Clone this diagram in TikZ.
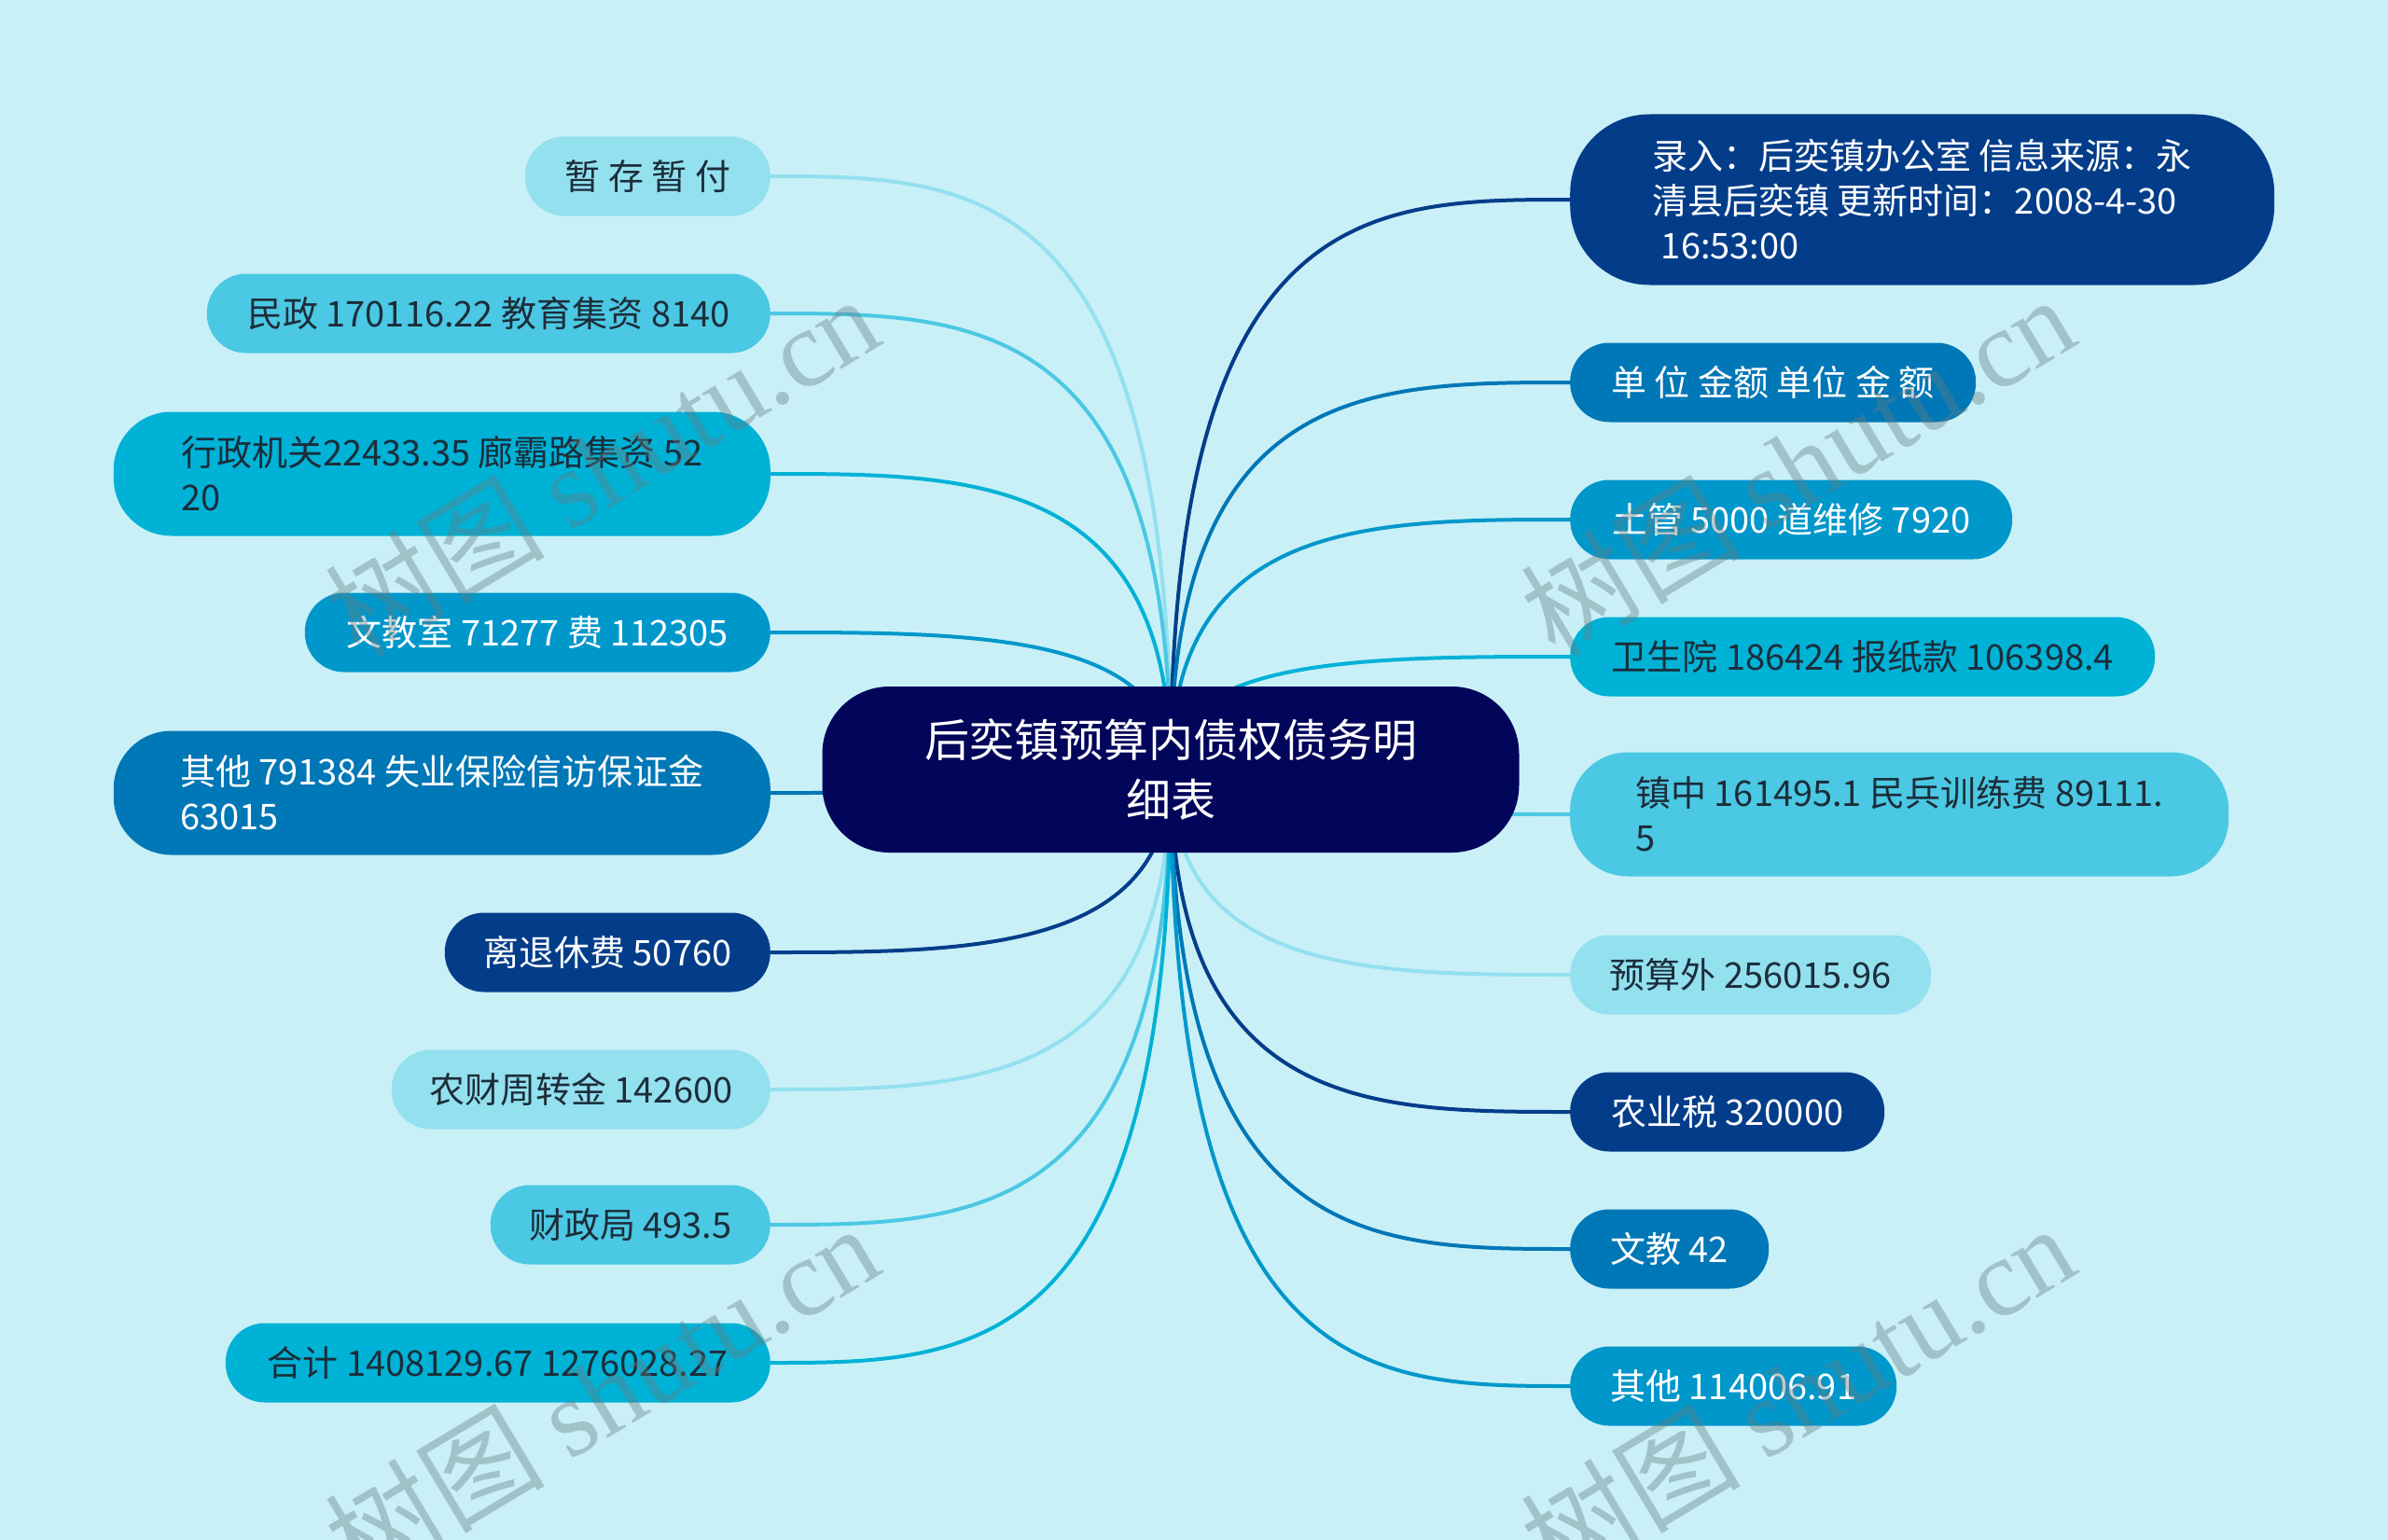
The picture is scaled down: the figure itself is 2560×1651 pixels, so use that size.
\documentclass[tikz,border=0pt]{standalone}
\usepackage{fontspec}
\setmainfont{Noto Sans CJK SC}
\setsansfont{Noto Sans CJK SC}
\newfontfamily\wmserif{Liberation Serif}
\definecolor{bg}{RGB}{201,240,247}
\definecolor{cnavy}{RGB}{2,6,90}
\definecolor{cA}{RGB}{147,224,239}
\definecolor{cB}{RGB}{75,200,227}
\definecolor{cC}{RGB}{0,178,214}
\definecolor{cD}{RGB}{0,151,203}
\definecolor{cE}{RGB}{0,119,182}
\definecolor{cF}{RGB}{3,61,138}
\definecolor{tdark}{RGB}{28,45,58}
\definecolor{wmc}{RGB}{100,125,130}
\tikzset{
  box/.style={rectangle, rounded corners=42pt, minimum height=85pt, inner sep=0pt,
    align=center, font=\fontsize{38}{48}\selectfont},
  multi/.style={box, align=left, rounded corners=62pt, minimum height=133pt},
  lbox/.style={box, anchor=east},
  rbox/.style={box, anchor=west},
  lmulti/.style={multi, anchor=east},
  rmulti/.style={multi, anchor=west},
  dk/.style={text=tdark},
  wt/.style={text=white},
  conn/.style={line width=4pt, line cap=round},
  wm/.style={text=wmc, opacity=0.4, rotate=31, font=\fontsize{118}{130}\selectfont}
}
\begin{document}
\begin{tikzpicture}[x=1pt,y=-1pt]
\useasboundingbox (0,0) rectangle (2560,1651);
\fill[bg] (0,0) rectangle (2560,1651);

\coordinate (c) at (1255,825);

% left nodes
\node[lbox, dk, fill=cA, minimum width=263pt] (L1) at (826,189) {暂 存 暂 付};
\node[lbox, dk, fill=cB, minimum width=604pt] (L2) at (826,336) {民政 170116.22 教育集资 8140};
\node[lmulti, dk, fill=cC, minimum width=704pt] (L3) at (826,508) {行政机关22433.35 廊霸路集资 52\\20};
\node[lbox, wt, fill=cD, minimum width=499pt] (L4) at (826,678) {文教室 71277 费 112305};
\node[lmulti, wt, fill=cE, minimum width=704pt] (L5) at (826,850) {其他 791384 失业保险信访保证金\\63015};
\node[lbox, wt, fill=cF, minimum width=349pt] (L6) at (826,1021) {离退休费 50760};
\node[lbox, dk, fill=cA, minimum width=406pt] (L7) at (826,1168) {农财周转金 142600};
\node[lbox, dk, fill=cB, minimum width=300pt] (L8) at (826,1313) {财政局 493.5};
\node[lbox, dk, fill=cC, minimum width=584pt] (L9) at (826,1461) {合计 1408129.67 1276028.27};

% right nodes
\node[rmulti, wt, fill=cF, minimum width=755pt, minimum height=183pt, rounded corners=85pt] (R1) at (1683,214) {录入：后奕镇办公室 信息来源：永\\清县后奕镇 更新时间：2008-4-30\\\hspace{0.25em}16:53:00};
\node[rbox, wt, fill=cE, minimum width=435pt] (R2) at (1683,410) {单 位 金额 单位 金 额};
\node[rbox, wt, fill=cD, minimum width=474pt] (R3) at (1683,557) {土管 5000 道维修 7920};
\node[rbox, dk, fill=cC, minimum width=627pt] (R4) at (1683,704) {卫生院 186424 报纸款 106398.4};
\node[rmulti, dk, fill=cB, minimum width=706pt] (R5) at (1683,873) {镇中 161495.1 民兵训练费 89111.\\5};
\node[rbox, dk, fill=cA, minimum width=387pt] (R6) at (1683,1045) {预算外 256015.96};
\node[rbox, wt, fill=cF, minimum width=337pt] (R7) at (1683,1192) {农业税 320000};
\node[rbox, wt, fill=cE, minimum width=213pt] (R8) at (1683,1339) {文教 42};
\node[rbox, wt, fill=cD, minimum width=350pt] (R9) at (1683,1486) {其他 114006.91};

% connectors
\foreach \n/\col in {L1/cA,L2/cB,L3/cC,L4/cD,L5/cE,L6/cF,L7/cA,L8/cB,L9/cC}{
  \draw[conn, \col] (\n.east) .. controls +(215,0) and (c |- \n.east) .. (c);
}
\foreach \n/\col in {R1/cF,R2/cE,R3/cD,R4/cC,R5/cB,R6/cA,R7/cF,R8/cE,R9/cD}{
  \draw[conn, \col] (\n.west) .. controls +(-214,0) and (c |- \n.west) .. (c);
}

% central node
\node[box, fill=cnavy, text=white, minimum width=747pt, minimum height=178pt, rounded corners=72pt,
  font=\fontsize{48}{64}\selectfont] (C) at (c) {后奕镇预算内债权债务明\\细表};

% watermarks
\node[wm] (W1) at (645,498) {树图 {\wmserif shutu.cn}};
\node[wm] (W2) at (1927,498) {树图 {\wmserif shutu.cn}};
\node[wm] (W3) at (645,1494) {树图 {\wmserif shutu.cn}};
\node[wm] (W4) at (1927,1494) {树图 {\wmserif shutu.cn}};
\end{tikzpicture}
\end{document}
